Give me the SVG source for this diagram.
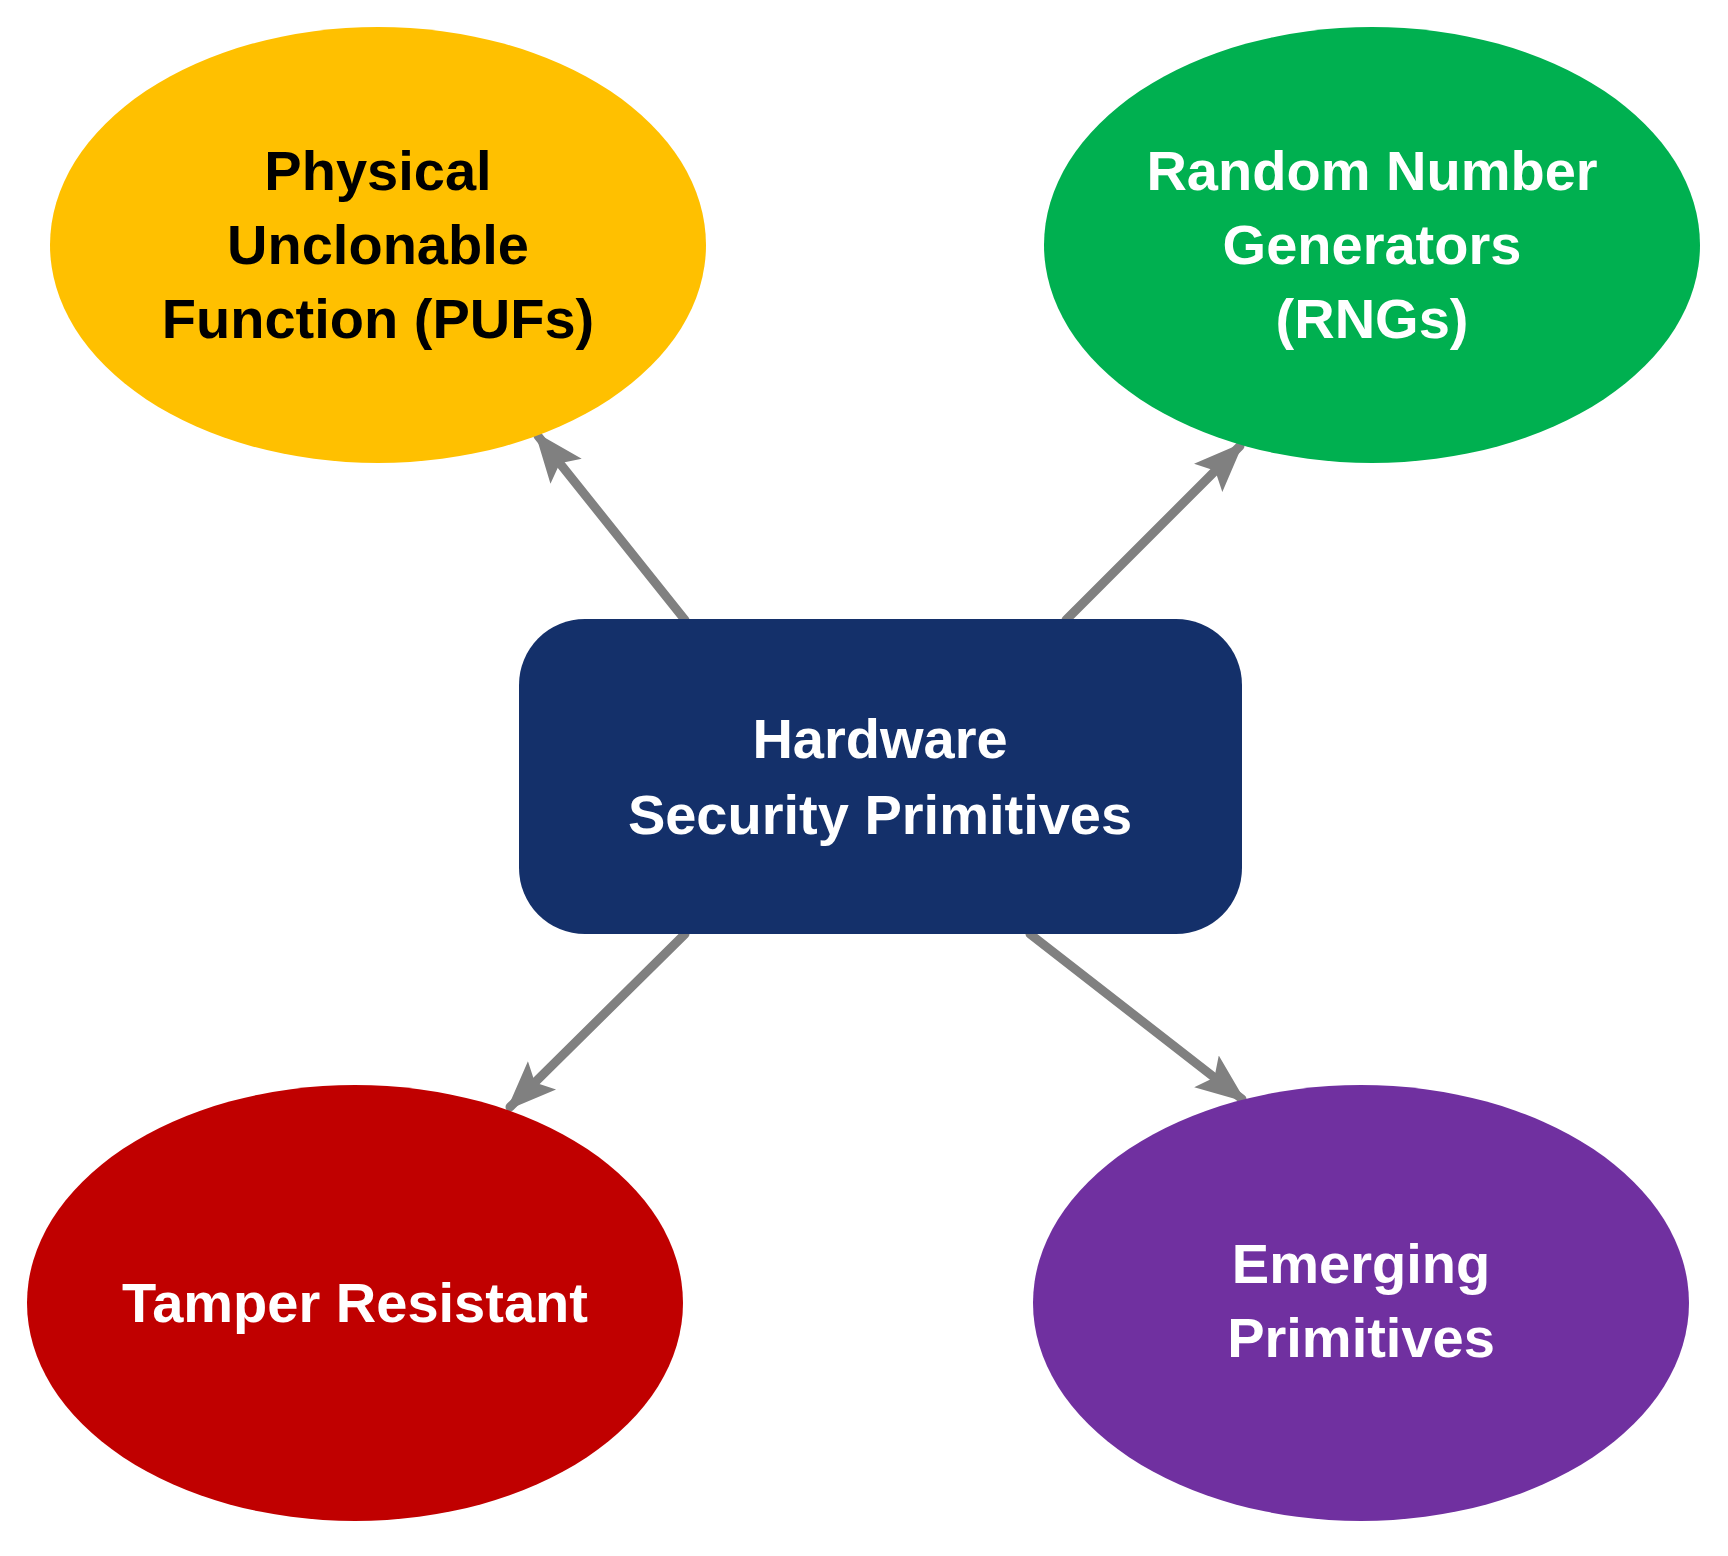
<svg xmlns="http://www.w3.org/2000/svg" width="1728" height="1556" viewBox="0 0 1728 1556">
<style>
text{font-family:"Liberation Sans",Arial,sans-serif;font-weight:bold;font-size:56px;text-anchor:middle}
.w{fill:#fff}.k{fill:#000}
.c{stroke:#808080;stroke-width:9;stroke-linecap:round;fill:none;marker-end:url(#ah)}
</style>
<defs>
<marker id="ah" markerUnits="userSpaceOnUse" markerWidth="50" markerHeight="50" viewBox="0 0 40 40" refX="36" refY="20" orient="auto">
<path d="M0,4 L40,20 L0,36 L8,20 Z" fill="#808080"/>
</marker>
</defs>
<rect width="1728" height="1556" fill="#fff"/>
<g id="connectors">
<line class="c" x1="685" y1="620" x2="538" y2="436"/>
<line class="c" x1="1066" y1="620" x2="1240" y2="446"/>
<line class="c" x1="685" y1="934" x2="510" y2="1107"/>
<line class="c" x1="1030" y1="934" x2="1242" y2="1099"/>
</g>
<g id="puf"><ellipse cx="378" cy="245" rx="328" ry="218" fill="#FFC000"/>
<text class="k" x="378" y="190">Physical</text><text class="k" x="378" y="264">Unclonable</text><text class="k" x="378" y="338">Function (PUFs)</text></g>
<g id="rng"><ellipse cx="1372" cy="245" rx="328" ry="218" fill="#00B050"/>
<text class="w" x="1372" y="190">Random Number</text><text class="w" x="1372" y="264">Generators</text><text class="w" x="1372" y="338">(RNGs)</text></g>
<g id="tamper"><ellipse cx="355" cy="1303" rx="328" ry="218" fill="#C00000"/>
<text class="w" x="355" y="1322">Tamper Resistant</text></g>
<g id="emerging"><ellipse cx="1361" cy="1303" rx="328" ry="218" fill="#7030A0"/>
<text class="w" x="1361" y="1283">Emerging</text><text class="w" x="1361" y="1357">Primitives</text></g>
<g id="hsp"><rect x="519" y="619" width="723" height="315" rx="66" fill="#14306A"/>
<text class="w" x="880" y="758">Hardware</text><text class="w" x="880" y="834">Security Primitives</text></g>
</svg>
